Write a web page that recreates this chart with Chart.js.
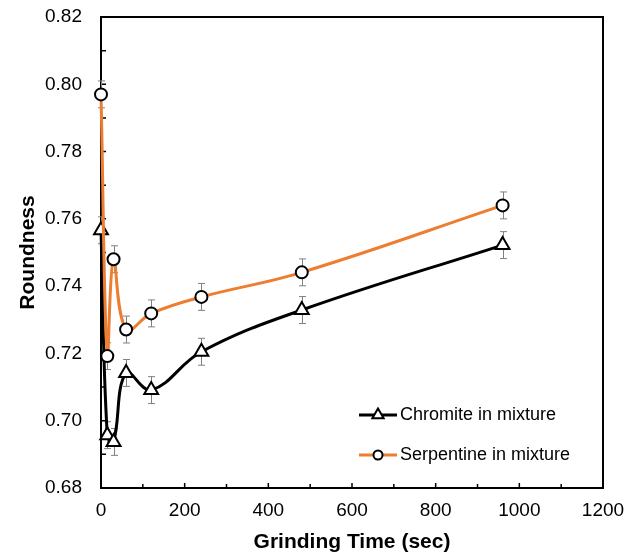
<!DOCTYPE html>
<html>
<head>
<meta charset="utf-8">
<script src="https://cdn.jsdelivr.net/npm/chart.js@4.4.0/dist/chart.umd.min.js"></script>
<style>
html, body { margin: 0; padding: 0; background: #fff; }
</style>
</head>
<body>
<canvas id="myChart" width="629" height="556"></canvas>
<script>
// grinding time (sec)
const grindingTime = [0, 15, 30, 60, 120, 240, 480, 960];
// roundness values
const chromite = [0.7566, 0.6957, 0.6937, 0.7142, 0.7091, 0.7205, 0.7329, 0.7522];
const chromiteErr = [0.004, 0.004, 0.004, 0.004, 0.004, 0.004, 0.004, 0.004];
const serpentine = [0.797, 0.7192, 0.748, 0.7271, 0.7319, 0.7368, 0.7441, 0.764];
const serpentineErr = [0.004, 0.004, 0.004, 0.004, 0.004, 0.004, 0.004, 0.004];
const seriesNames = ['Chromite in mixture', 'Serpentine in mixture'];

const FONT = "'Liberation Sans', Arial, sans-serif";

function points(values) {
    return grindingTime.map((t, i) => ({ x: t, y: values[i] }));
}

// gray error bars under the markers
const errorBars = {
    id: 'errorBars',
    beforeDatasetsDraw(chart) {
        const ctx = chart.ctx;
        const x = chart.scales.x, y = chart.scales.y;
        ctx.save();
        ctx.strokeStyle = '#808080';
        ctx.lineWidth = 1;
        chart.data.datasets.forEach(ds => {
            ds.data.forEach((p, i) => {
                const px = Math.round(x.getPixelForValue(p.x)) + 0.5;
                const t = y.getPixelForValue(p.y + ds.errors[i]);
                const b = y.getPixelForValue(p.y - ds.errors[i]);
                ctx.beginPath();
                ctx.moveTo(px, t); ctx.lineTo(px, b);
                ctx.moveTo(px - 3.5, t); ctx.lineTo(px + 3.5, t);
                ctx.moveTo(px - 3.5, b); ctx.lineTo(px + 3.5, b);
                ctx.stroke();
            });
        });
        ctx.restore();
    }
};

// box frame with inward ticks
const frame = {
    id: 'frame',
    beforeDatasetsDraw(chart) {
        const ctx = chart.ctx;
        const a = chart.chartArea;
        const x = chart.scales.x, y = chart.scales.y;
        ctx.save();
        ctx.strokeStyle = '#000';
        ctx.lineWidth = 1.5;
        ctx.beginPath();
        for (let v = 0; v <= 1200; v += 100) {
            const px = x.getPixelForValue(v);
            const len = v % 200 === 0 ? 5 : 4;
            ctx.moveTo(px, a.bottom); ctx.lineTo(px, a.bottom - len);
        }
        for (let k = 68; k <= 82; k++) {
            const py = y.getPixelForValue(k / 100);
            ctx.moveTo(a.left, py); ctx.lineTo(a.left + 5, py);
        }
        ctx.stroke();
        ctx.lineWidth = 2;
        ctx.strokeRect(a.left, a.top, a.right - a.left, a.bottom - a.top);
        ctx.restore();
    }
};

// legend drawn inside the plot, lower right
const insideLegend = {
    id: 'insideLegend',
    afterDraw(chart) {
        const ctx = chart.ctx;
        const rows = [415, 455];
        ctx.save();
        chart.data.datasets.forEach((ds, i) => {
            const yy = rows[i];
            ctx.strokeStyle = ds.borderColor;
            ctx.lineWidth = 3;
            ctx.beginPath();
            ctx.moveTo(359, yy); ctx.lineTo(397, yy);
            ctx.stroke();
            ctx.fillStyle = '#fff';
            ctx.strokeStyle = '#000';
            ctx.lineWidth = 2;
            ctx.beginPath();
            if (ds.pointStyle === 'triangle') {
                const r = 6.5;
                ctx.moveTo(378, yy - r);
                ctx.lineTo(378 + r * 0.866, yy + r / 2);
                ctx.lineTo(378 - r * 0.866, yy + r / 2);
                ctx.closePath();
            } else {
                ctx.arc(378, yy, 4.5, 0, Math.PI * 2);
            }
            ctx.fill();
            ctx.stroke();
            ctx.fillStyle = '#000';
            ctx.font = '18px ' + FONT;
            ctx.textBaseline = 'middle';
            ctx.fillText(ds.label, 400, yy);
        });
        ctx.restore();
    }
};

const ctx = document.getElementById('myChart').getContext('2d');
const myChart = new Chart(ctx, {
    type: 'line',
    data: {
        datasets: [{
            label: seriesNames[0],
            data: points(chromite),
            errors: chromiteErr,
            borderColor: '#000000',
            borderWidth: 3,
            pointStyle: 'triangle',
            pointRadius: 8,
            pointBackgroundColor: '#ffffff',
            pointBorderColor: '#000000',
            pointBorderWidth: 2,
            tension: 0.4,
            order: 2
        }, {
            label: seriesNames[1],
            data: points(serpentine),
            errors: serpentineErr,
            borderColor: '#ed7d31',
            borderWidth: 3,
            pointStyle: 'circle',
            pointRadius: 6,
            pointBackgroundColor: '#ffffff',
            pointBorderColor: '#000000',
            pointBorderWidth: 2,
            tension: 0.4,
            order: 1
        }]
    },
    options: {
        responsive: false,
        animation: false,
        clip: false,
        layout: { padding: { top: 17, right: 26, left: 12, bottom: 0 } },
        plugins: {
            legend: { display: false },
            tooltip: { enabled: false }
        },
        scales: {
            x: {
                type: 'linear',
                min: 0,
                max: 1200,
                grid: { display: false, drawTicks: false },
                border: { display: false },
                ticks: {
                    stepSize: 200,
                    padding: 11,
                    color: '#000',
                    font: { family: FONT, size: 19 },
                    callback: v => String(v)
                },
                title: {
                    display: true,
                    text: 'Grinding Time (sec)',
                    color: '#000',
                    padding: { top: 2, bottom: 1 },
                    font: { family: FONT, size: 21, weight: 'bold' }
                },
                afterFit(scale) {
                    scale.height = 68;
                    scale.paddingLeft = 0;
                    scale.paddingRight = 0;
                }
            },
            y: {
                min: 0.68,
                max: 0.82,
                grid: { display: false, drawTicks: false },
                border: { display: false },
                ticks: {
                    stepSize: 0.02,
                    padding: 19,
                    color: '#000',
                    font: { family: FONT, size: 19 },
                    callback: v => v.toFixed(2)
                },
                title: {
                    display: true,
                    text: 'Roundness',
                    color: '#000',
                    padding: { top: 4, bottom: 2 },
                    font: { family: FONT, size: 21, weight: 'bold' }
                },
                afterFit(scale) {
                    scale.width = 89;
                    scale.paddingTop = 0;
                    scale.paddingBottom = 0;
                }
            }
        }
    },
    plugins: [frame, errorBars, insideLegend]
});
</script>
</body>
</html>
